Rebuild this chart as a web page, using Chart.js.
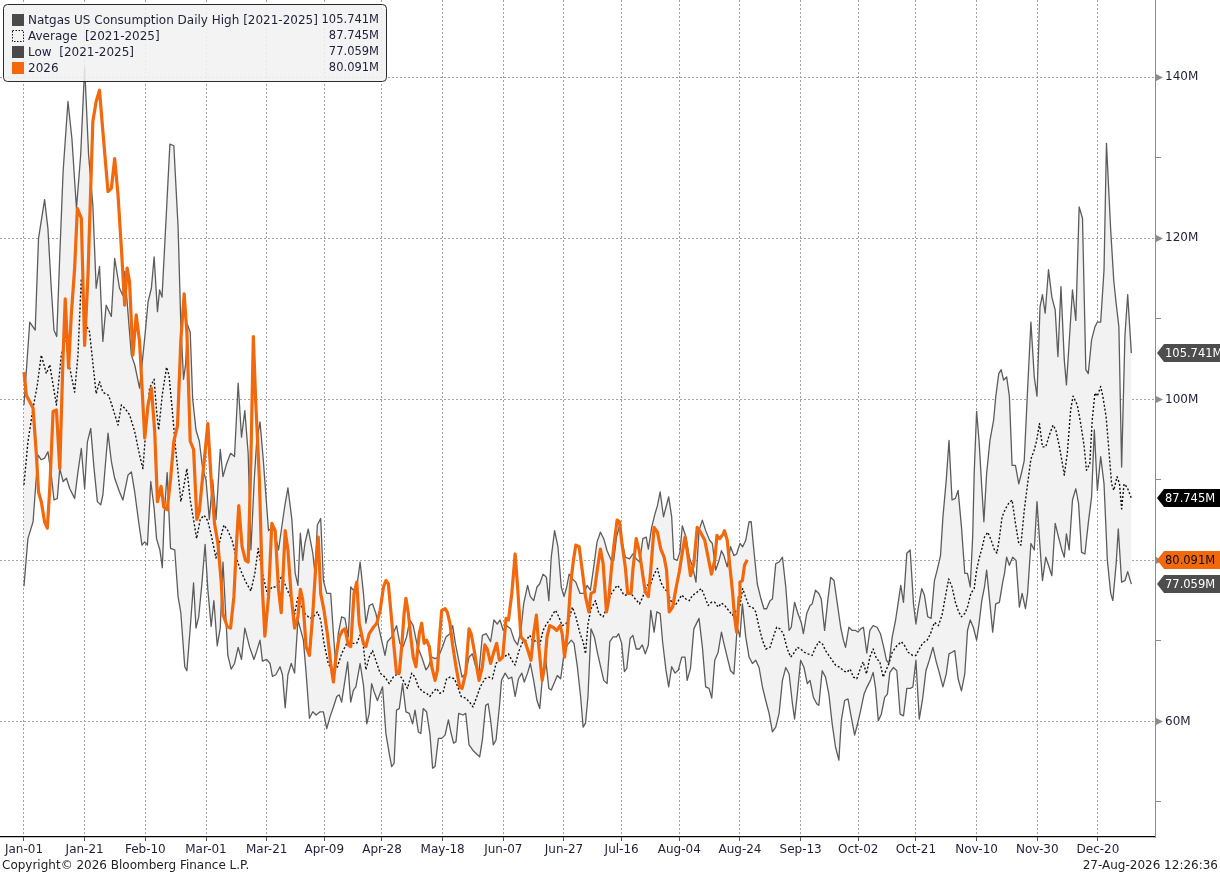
<!DOCTYPE html>
<html>
<head>
<meta charset="utf-8">
<title>Natgas US Consumption Daily</title>
<script src="https://cdn.jsdelivr.net/npm/chart.js@4.4.1/dist/chart.umd.min.js"></script>
<style>
  html, body { margin: 0; padding: 0; background: #fff; }
  canvas { display: block; }
</style>
</head>
<body>
<canvas id="chart" width="1220" height="873"></canvas>
<script>
// x = day of a 366-day seasonal year (Jan-01 = 0, Feb-29 slot included)
const tickDays = [0, 20, 40, 60, 80, 99, 118, 138, 158, 178, 197, 216, 236, 256, 275, 294, 314, 334, 354]
const tickLabels = ['Jan-01', 'Jan-21', 'Feb-10', 'Mar-01', 'Mar-21', 'Apr-09', 'Apr-28', 'May-18', 'Jun-07',
  'Jun-27', 'Jul-16', 'Aug-04', 'Aug-24', 'Sep-13', 'Oct-02', 'Oct-21', 'Nov-10', 'Nov-30', 'Dec-20']
const yTickValues = [50, 60, 70, 80, 90, 100, 110, 120, 130, 140]
const yLabelValues = [60, 80, 100, 120, 140]

// [day, million] pairs
const highPts = [[0,99.3],[1.9,109.6],[3.7,108.6],[4.8,120.0],[6.8,124.8],[7.9,121.2],[9.0,113.8],[9.9,108.6],[10.8,107.8],[11.8,117.9],[12.9,128.3],[14.5,137.0],[15.8,132.4],[17.3,123.7],[18.7,130.4],[20.0,141.3],[21.3,130.4],[22.7,124.1],[23.8,113.8],[24.9,116.5],[26.0,107.2],[27.1,111.7],[28.8,110.3],[29.9,117.5],[31.5,113.8],[32.6,112.9],[33.2,115.9],[35.4,105.5],[36.5,104.3],[38.1,101.4],[39.8,107.6],[40.9,112.1],[42.0,113.8],[42.9,117.7],[44.0,110.9],[44.7,113.6],[45.5,112.7],[46.7,121.4],[48.1,131.7],[49.4,131.5],[50.8,121.4],[51.7,109.3],[52.6,102.5],[53.3,104.4],[53.9,109.3],[54.8,108.3],[55.6,100.1],[56.7,96.2],[57.8,94.8],[58.9,91.4],[60.0,90.0],[61.1,85.1],[62.2,90.0],[63.3,85.1],[64.7,93.8],[65.6,90.4],[66.7,91.9],[68.1,93.3],[69.4,92.9],[70.6,102.0],[71.7,95.3],[72.8,98.6],[73.9,93.3],[74.8,81.3],[75.9,90.0],[76.7,94.8],[77.8,97.2],[78.9,92.4],[80.6,83.7],[82.2,84.2],[83.9,81.3],[85.9,86.6],[87.0,89.0],[88.3,85.1],[89.4,78.4],[90.3,76.9],[91.1,83.4],[91.9,80.0],[92.6,82.1],[93.7,83.9],[95.2,80.9],[95.9,78.4],[96.7,84.4],[97.8,85.2],[98.7,77.5],[99.8,75.9],[101.1,75.9],[102.0,70.9],[102.8,66.8],[103.6,70.9],[104.7,73.0],[105.8,72.8],[106.9,70.5],[107.7,76.7],[108.6,76.3],[109.7,76.7],[110.8,79.8],[111.9,75.9],[112.7,72.2],[113.8,74.4],[114.9,74.6],[116.0,73.4],[117.4,70.9],[119.0,68.2],[119.8,69.9],[121.2,70.5],[122.8,71.9],[123.9,69.7],[125.0,69.3],[126.1,70.5],[127.2,72.6],[128.3,71.9],[129.7,69.3],[131.1,68.0],[132.5,66.4],[133.3,66.8],[134.4,68.0],[135.5,67.8],[136.6,68.0],[138.0,69.3],[139.1,70.5],[140.4,70.9],[141.3,71.9],[142.2,69.7],[143.3,67.6],[144.4,65.5],[145.6,66.0],[146.7,68.0],[147.8,68.4],[148.9,66.8],[150.0,66.2],[151.1,70.7],[152.4,70.9],[153.8,69.9],[154.9,72.6],[156.0,72.1],[156.9,72.6],[158.0,71.3],[159.1,71.9],[160.4,71.5],[161.6,70.1],[162.7,69.5],[163.8,71.3],[164.7,74.6],[166.0,76.9],[166.9,75.5],[168.0,75.0],[169.1,76.7],[170.0,77.1],[171.1,78.3],[172.2,77.9],[173.0,75.0],[173.8,80.4],[174.9,83.7],[176.0,81.7],[177.1,76.7],[178.0,75.5],[178.9,76.7],[179.7,78.3],[180.8,77.7],[181.9,77.3],[183.3,75.9],[184.6,75.9],[185.6,76.9],[186.7,76.3],[187.8,79.2],[188.9,82.3],[190.0,83.5],[191.1,82.7],[192.2,81.2],[193.6,80.0],[194.4,80.0],[195.3,82.9],[196.3,84.3],[197.1,82.5],[198.2,80.4],[199.6,80.2],[200.7,80.8],[201.8,80.2],[202.9,79.8],[204.0,82.7],[205.1,82.9],[205.8,81.4],[206.9,84.1],[208.0,85.8],[208.8,86.8],[209.7,88.5],[210.8,85.4],[211.6,86.6],[212.5,87.9],[213.5,85.4],[214.2,80.2],[215.3,80.0],[216.2,81.0],[217.0,84.3],[218.2,82.9],[219.3,80.4],[220.4,79.2],[221.5,77.3],[222.5,83.7],[223.6,85.0],[224.7,83.7],[226.0,82.5],[226.9,82.1],[228.0,78.8],[229.1,80.0],[229.9,81.2],[230.7,80.6],[231.8,79.2],[232.9,81.7],[234.0,80.6],[234.9,80.8],[236.0,82.1],[236.9,81.7],[237.9,82.5],[239.0,84.8],[239.7,84.8],[240.6,81.2],[241.7,77.1],[242.8,75.4],[243.9,74.0],[244.8,74.0],[245.9,75.0],[246.7,75.2],[247.8,79.6],[248.9,79.8],[250.0,80.4],[251.1,76.7],[252.2,71.3],[252.9,71.7],[254.0,74.8],[255.1,73.4],[256.2,72.3],[256.9,70.9],[258.0,73.4],[259.1,74.4],[259.8,74.6],[260.9,76.3],[262.0,75.9],[262.8,75.2],[263.9,71.3],[265.0,75.2],[265.9,77.9],[267.0,77.5],[268.1,74.6],[269.2,71.7],[270.1,70.1],[270.8,69.2],[271.9,71.7],[273.0,71.3],[274.1,71.3],[274.9,71.1],[275.8,71.5],[276.7,71.7],[277.8,68.5],[278.8,71.3],[279.9,71.9],[281.2,71.7],[282.3,70.9],[283.4,69.2],[284.3,67.6],[285.1,67.2],[286.2,70.5],[287.3,72.6],[288.1,74.6],[289.0,76.9],[289.9,74.8],[291.0,80.9],[292.1,81.3],[293.2,74.6],[294.0,72.1],[294.8,74.2],[295.9,76.5],[296.8,75.7],[297.9,73.0],[299.0,72.8],[300.1,77.5],[301.0,78.8],[302.1,80.6],[302.9,85.4],[304.0,90.0],[304.9,94.9],[305.9,87.5],[307.0,87.7],[307.9,88.7],[309.0,84.2],[310.1,78.4],[311.0,78.4],[311.9,76.7],[312.7,82.9],[313.2,90.8],[314.0,98.5],[314.8,94.9],[315.7,89.1],[316.4,84.8],[317.3,90.8],[318.4,94.9],[319.6,97.4],[320.3,100.3],[321.3,103.2],[322.1,103.7],[322.9,102.4],[323.9,102.8],[324.8,100.4],[325.7,91.8],[326.8,91.8],[327.9,89.5],[329.0,91.2],[329.7,92.4],[330.8,101.2],[331.9,109.6],[333.0,102.8],[333.9,100.4],[334.9,111.5],[335.7,113.0],[336.6,110.7],[337.7,116.1],[338.8,112.7],[339.9,111.1],[340.8,105.3],[341.8,114.0],[342.9,104.9],[343.6,101.8],[344.5,107.0],[345.6,113.6],[346.7,109.8],[347.8,123.9],[348.9,122.5],[350.0,103.7],[350.8,103.2],[351.9,107.4],[353.0,109.0],[353.8,109.6],[354.9,109.6],[356.0,116.1],[356.8,131.8],[358.2,121.0],[359.2,114.8],[360.0,111.9],[360.9,109.0],[361.8,91.6],[362.9,108.0],[363.8,113.0],[365,105.741]]

const lowPts = [[0,76.8],[1.3,82.7],[3.0,84.8],[4.6,93.1],[5.7,92.5],[6.8,92.7],[7.9,93.5],[9.0,90.6],[9.9,87.5],[11.0,87.7],[11.8,91.4],[12.9,89.8],[14.0,90.2],[15.1,88.9],[16.7,87.7],[17.8,91.0],[18.9,93.9],[20.0,88.9],[20.9,94.7],[22.0,96.4],[23.1,91.4],[24.2,87.3],[25.3,86.9],[26.0,88.1],[27.7,95.8],[28.8,92.3],[29.9,90.2],[31.5,88.5],[32.6,87.5],[34.3,90.6],[35.4,91.0],[36.5,88.5],[37.8,84.8],[38.9,81.9],[39.8,82.3],[40.7,81.9],[41.8,89.8],[42.9,86.5],[43.7,82.7],[44.8,81.3],[45.6,79.1],[46.3,86.1],[47.2,90.9],[48.3,81.5],[49.7,81.3],[50.8,75.5],[51.7,73.5],[53.0,66.8],[53.7,66.3],[54.8,71.6],[55.9,77.2],[56.7,71.6],[57.6,73.0],[58.6,76.9],[59.7,82.0],[60.6,76.4],[61.7,71.8],[62.6,75.0],[63.7,69.4],[64.7,71.6],[65.6,79.8],[67.2,68.2],[68.3,66.5],[69.4,67.2],[70.6,69.2],[71.7,67.7],[72.8,71.6],[74.4,69.2],[75.8,67.7],[76.7,68.7],[77.8,70.1],[78.6,67.5],[80.0,67.7],[81.1,67.2],[81.9,65.6],[83.0,65.8],[84.4,66.8],[85.2,65.8],[86.1,61.7],[87.0,65.8],[88.1,67.2],[89.2,66.0],[90.3,72.6],[91.4,71.1],[92.1,70.1],[93.0,66.0],[94.1,60.4],[95.2,61.2],[96.3,60.8],[97.6,61.2],[98.7,61.2],[99.8,59.1],[100.9,60.6],[102.0,61.8],[103.1,63.1],[103.9,63.3],[104.7,62.4],[105.8,65.1],[106.7,67.4],[107.7,62.4],[108.6,63.9],[109.4,64.3],[110.8,67.2],[111.9,64.5],[113.0,59.7],[113.8,61.0],[114.6,64.7],[115.4,63.7],[116.5,62.6],[117.4,63.5],[118.2,64.3],[119.3,58.5],[120.4,56.0],[121.2,54.4],[122.0,54.8],[122.8,61.4],[123.7,61.6],[124.8,64.7],[125.9,61.2],[127.0,61.0],[128.1,59.7],[128.9,61.4],[130.0,58.7],[130.8,58.5],[131.6,61.6],[132.7,61.2],[133.8,58.5],[134.7,54.2],[135.5,54.4],[136.6,57.9],[137.7,57.9],[138.8,58.3],[139.9,60.2],[140.8,58.5],[141.6,57.3],[142.4,57.5],[143.3,61.0],[144.7,60.8],[145.6,61.0],[146.7,57.1],[148.0,56.4],[149.1,56.0],[150.2,55.6],[151.1,57.7],[152.2,62.0],[153.0,62.2],[153.8,60.2],[154.7,57.1],[155.6,57.7],[156.7,61.8],[157.4,65.1],[158.6,66.0],[159.7,65.3],[160.8,65.5],[161.9,63.1],[163.0,65.3],[164.1,66.0],[164.9,64.9],[166.0,66.0],[166.9,67.2],[168.0,65.1],[169.1,62.6],[170.0,61.6],[170.8,65.1],[171.9,68.0],[173.0,64.1],[173.8,63.9],[174.7,64.7],[175.8,65.7],[176.9,65.3],[178.0,68.4],[179.1,69.5],[180.4,70.1],[181.3,69.7],[182.4,66.8],[183.5,63.0],[184.3,59.3],[185.1,59.8],[185.9,63.1],[186.9,71.5],[188.0,70.5],[189.1,68.4],[190.2,66.6],[191.1,65.1],[192.2,64.7],[193.1,69.9],[194.2,70.5],[195.3,70.5],[196.0,70.9],[197.0,69.7],[197.9,66.2],[198.7,66.6],[199.8,70.3],[200.7,70.7],[201.8,69.0],[202.9,69.0],[203.8,69.5],[204.8,68.4],[205.8,69.5],[206.6,73.8],[207.7,71.1],[208.6,73.6],[209.7,73.4],[210.5,69.9],[211.6,66.4],[212.5,64.3],[213.5,66.8],[214.6,66.0],[215.7,66.4],[216.8,68.0],[217.9,68.0],[218.6,65.1],[219.7,66.6],[220.8,71.5],[222.5,72.8],[223.6,69.3],[224.7,64.3],[225.8,64.1],[226.7,62.9],[227.7,67.6],[228.8,68.6],[229.9,71.1],[230.7,69.7],[231.8,68.0],[232.9,66.3],[234.0,65.9],[235.1,71.7],[236.0,70.5],[236.8,74.6],[237.9,70.5],[239.0,68.0],[240.1,67.2],[241.2,67.6],[242.3,66.7],[243.4,64.3],[244.5,62.6],[245.6,61.0],[246.7,58.7],[247.8,59.3],[248.9,61.0],[250.0,65.1],[251.1,66.7],[252.2,65.9],[253.3,62.2],[254.0,60.3],[254.9,63.4],[256.0,67.6],[257.1,66.7],[258.2,64.7],[259.1,65.1],[260.2,63.0],[261.3,62.2],[262.0,62.0],[263.1,66.3],[264.2,65.5],[265.3,63.4],[266.4,59.7],[267.5,56.8],[268.6,55.2],[269.4,60.1],[270.5,62.6],[271.6,62.8],[272.7,60.5],[273.8,58.3],[274.9,59.9],[275.8,61.4],[276.9,63.4],[277.9,64.3],[279.0,65.1],[279.9,66.1],[280.7,64.1],[281.6,60.1],[282.6,60.9],[283.7,63.0],[284.6,63.4],[285.4,66.1],[286.6,66.7],[287.7,66.3],[288.8,60.9],[289.9,60.7],[291.0,64.1],[292.1,64.1],[293.0,64.3],[294.0,67.6],[295.1,60.3],[296.2,62.8],[297.3,66.3],[298.4,67.6],[299.6,69.2],[300.7,67.4],[301.8,65.9],[302.9,64.3],[304.0,65.9],[304.9,68.4],[305.9,68.6],[306.8,68.8],[307.9,65.3],[309.0,63.8],[310.1,65.9],[311.0,71.3],[311.9,72.6],[312.9,71.7],[314.0,70.1],[314.8,72.1],[315.7,75.0],[316.6,76.7],[317.3,78.8],[318.4,74.6],[319.3,71.1],[320.3,74.6],[321.5,74.8],[322.6,77.3],[323.2,78.4],[323.9,80.4],[324.8,79.4],[325.9,80.4],[327.0,80.0],[328.1,74.2],[329.0,75.9],[330.1,74.0],[330.8,75.9],[331.9,82.1],[333.0,81.3],[333.9,87.3],[334.9,81.7],[335.7,77.5],[336.8,80.4],[337.7,79.4],[338.8,78.1],[339.9,84.6],[341.0,82.9],[342.1,81.3],[342.9,80.4],[343.6,83.3],[344.5,81.3],[345.6,87.5],[346.7,88.9],[347.6,87.1],[348.6,81.0],[349.7,80.8],[350.8,84.6],[351.9,87.9],[352.8,96.2],[353.8,88.7],[354.9,92.9],[356.0,89.5],[357.1,80.0],[358.2,75.9],[358.9,75.0],[360.0,79.6],[360.7,83.9],[361.8,77.3],[362.9,77.5],[363.8,78.6],[365,77.059]]

const avgPts = [[0,89.4],[1.3,94.7],[3.0,98.9],[4.4,101.8],[5.7,105.5],[7.4,103.2],[8.5,104.3],[9.6,101.8],[10.7,99.3],[12.3,105.5],[14.0,108.0],[15.1,103.9],[16.7,100.9],[17.8,105.5],[18.9,115.0],[20.0,109.6],[21.6,108.4],[23.8,100.7],[24.9,102.2],[26.0,100.9],[27.9,100.5],[29.3,98.9],[31.0,96.8],[32.1,99.3],[33.2,98.9],[34.8,98.1],[36.5,96.0],[38.1,93.1],[39.2,91.4],[40.3,96.8],[41.4,101.4],[42.9,102.5],[43.7,98.6],[44.4,96.2],[45.6,100.6],[47.0,104.0],[47.8,103.0],[48.9,98.6],[50.0,93.8],[50.8,90.9],[51.7,87.3],[52.6,89.0],[53.7,91.4],[54.8,87.5],[56.1,84.6],[56.9,82.7],[58.1,85.1],[59.4,85.6],[60.6,84.9],[61.7,83.2],[63.3,80.3],[64.4,82.2],[65.9,84.4],[67.2,83.7],[68.6,82.5],[70.0,80.3],[71.4,78.8],[73.0,77.4],[74.8,76.2],[76.1,78.4],[77.2,81.5],[78.6,78.4],[80.3,75.7],[81.7,76.7],[83.3,76.7],[85.0,78.1],[86.7,76.4],[87.8,75.5],[89.2,73.3],[90.3,75.5],[91.0,74.6],[92.6,73.4],[94.3,72.8],[95.4,73.0],[96.7,73.6],[97.8,72.6],[98.9,69.7],[100.3,67.2],[102.0,66.0],[103.3,66.8],[104.7,68.4],[106.4,69.7],[108.0,69.7],[109.7,69.7],[111.0,70.9],[111.9,69.3],[112.7,66.4],[113.8,68.0],[114.9,68.8],[116.3,67.2],[117.4,66.0],[119.0,65.5],[120.4,64.7],[121.7,65.5],[123.4,66.0],[125.0,65.1],[126.4,64.1],[127.8,66.0],[128.9,65.5],[130.0,64.3],[131.4,63.7],[132.7,63.5],[133.8,63.1],[134.9,63.7],[136.0,64.1],[137.1,63.5],[138.2,63.7],[139.3,65.3],[140.4,65.5],[141.9,65.3],[143.0,64.3],[144.1,63.1],[145.6,62.9],[146.9,62.4],[148.0,61.8],[149.3,63.1],[150.4,64.3],[151.9,65.3],[153.3,65.5],[154.4,65.3],[155.6,67.2],[156.9,67.8],[158.2,68.0],[159.7,68.4],[160.8,67.6],[161.9,67.0],[163.0,68.6],[164.4,69.9],[165.6,70.1],[166.7,70.7],[167.8,69.9],[168.9,70.1],[170.0,69.5],[171.1,71.3],[172.2,72.1],[173.3,72.6],[174.4,73.4],[175.2,73.8],[176.3,73.0],[177.4,71.9],[178.6,72.1],[179.7,72.8],[180.8,74.2],[181.9,73.0],[183.3,70.9],[184.3,69.9],[185.1,68.4],[185.9,72.1],[186.9,74.0],[188.4,75.0],[189.5,73.4],[190.9,73.0],[192.2,74.2],[193.3,75.7],[194.4,76.3],[195.5,76.9],[196.6,76.5],[197.7,75.7],[199.0,75.7],[200.1,75.9],[201.5,75.2],[202.9,74.6],[204.0,75.5],[205.3,76.9],[206.6,77.1],[207.7,78.3],[208.8,79.0],[209.9,77.3],[211.0,76.5],[212.1,76.1],[213.2,75.0],[214.6,74.4],[215.7,75.0],[216.8,75.7],[218.2,75.2],[219.3,75.0],[220.4,75.7],[221.5,75.9],[222.5,76.3],[223.3,76.5],[224.4,75.5],[225.5,74.4],[226.6,74.8],[227.7,74.8],[228.8,74.2],[229.9,74.7],[231.0,74.4],[231.8,74.0],[233.5,73.2],[234.9,73.8],[236.0,74.4],[236.9,76.5],[237.9,75.4],[239.0,74.3],[240.1,74.2],[241.2,73.6],[242.3,71.7],[243.4,70.1],[244.5,69.0],[245.9,69.2],[247.0,70.5],[248.1,71.7],[249.2,71.5],[250.3,70.9],[251.6,69.0],[252.7,68.0],[253.6,68.4],[254.9,69.2],[256.0,69.0],[257.1,68.6],[258.4,68.4],[259.8,68.2],[260.9,69.2],[262.0,69.9],[263.1,69.7],[264.2,68.8],[265.3,68.2],[266.4,67.6],[267.5,67.0],[269.0,66.7],[270.1,66.3],[271.2,66.1],[272.3,66.5],[273.4,65.5],[274.5,65.3],[275.6,66.5],[276.6,67.4],[277.7,65.9],[278.8,68.0],[279.9,69.0],[281.0,67.8],[282.1,67.4],[283.2,65.5],[284.3,66.5],[285.1,67.2],[286.2,68.6],[287.7,69.4],[289.2,69.9],[290.3,69.4],[291.4,68.6],[292.9,68.2],[294.0,68.2],[295.1,69.0],[296.2,69.7],[297.7,70.1],[298.8,70.9],[300.1,72.3],[301.4,71.9],[302.6,73.2],[303.7,75.5],[304.8,77.7],[305.9,76.7],[307.0,74.8],[308.1,73.6],[309.0,73.0],[310.1,73.4],[311.0,74.2],[312.1,75.9],[313.2,76.5],[314.0,78.8],[314.8,80.2],[315.9,81.7],[316.6,82.9],[317.7,83.5],[318.8,82.5],[319.9,81.3],[320.7,80.9],[321.4,82.5],[322.4,85.4],[323.5,86.4],[324.6,87.1],[325.7,87.5],[326.8,84.6],[327.9,82.1],[328.6,81.9],[329.7,86.2],[330.8,89.5],[331.9,92.6],[333.0,93.7],[333.8,94.9],[334.7,97.0],[335.7,94.1],[336.8,94.1],[337.9,95.5],[339.2,96.8],[340.1,96.2],[341.2,94.3],[342.1,92.4],[342.9,90.6],[343.9,93.3],[345.0,98.7],[345.8,100.4],[347.2,99.3],[348.3,97.0],[349.4,94.3],[350.2,91.2],[351.3,92.0],[352.1,97.4],[353.0,100.8],[353.8,100.4],[354.9,101.6],[355.6,100.4],[356.7,97.8],[357.6,93.7],[358.5,89.5],[359.2,88.7],[360.3,90.4],[361.1,89.5],[361.8,86.4],[362.6,89.5],[363.6,89.1],[365,87.745]]

const y2026Pts = [[0,103.4],[0.8,100.5],[1.9,99.7],[3.0,98.9],[4.1,93.1],[4.8,88.5],[5.7,87.3],[6.8,84.8],[7.7,84.0],[8.5,88.9],[9.6,98.5],[10.7,98.7],[11.8,91.4],[12.9,105.5],[13.6,112.5],[14.7,103.9],[15.6,110.5],[16.7,116.3],[17.6,123.7],[18.9,122.5],[20.0,106.7],[21.1,115.4],[22.0,126.2],[22.7,134.5],[23.8,137.0],[24.9,138.4],[26.0,133.3],[27.7,125.8],[28.8,126.2],[29.9,129.9],[31.0,125.4],[32.1,118.8],[33.2,111.7],[34.0,116.3],[34.8,114.6],[35.9,105.5],[37.0,110.5],[38.1,107.2],[39.8,95.2],[40.9,99.3],[42.0,101.4],[43.1,96.0],[44.0,87.3],[45.2,89.2],[46.1,86.6],[47.2,86.3],[48.3,90.0],[49.4,94.8],[50.6,96.7],[51.7,107.3],[52.8,113.1],[53.7,108.3],[54.8,94.8],[55.9,93.8],[57.0,85.1],[57.8,86.1],[58.9,90.4],[60.6,97.0],[61.7,90.0],[62.8,84.6],[63.9,82.2],[65.0,77.4],[65.6,73.3],[67.0,71.8],[68.1,71.6],[69.2,75.5],[70.0,81.7],[70.8,86.8],[71.9,81.7],[73.0,80.0],[73.9,79.8],[74.8,92.4],[75.6,107.8],[76.4,99.6],[77.6,90.0],[78.6,76.4],[79.4,70.6],[80.6,75.5],[81.7,84.6],[82.8,83.7],[83.9,76.4],[84.8,73.5],[86.1,83.7],[87.0,81.3],[88.1,75.5],[89.2,71.6],[90.3,73.0],[91.1,76.4],[91.9,75.1],[93.0,69.3],[94.1,68.2],[95.2,73.4],[96.3,80.0],[97.0,82.9],[97.8,75.9],[98.9,73.8],[100.0,70.9],[101.1,67.2],[102.0,64.9],[102.8,68.0],[103.9,70.5],[105.0,71.3],[105.8,71.5],[106.9,69.5],[107.7,69.3],[108.8,75.9],[109.7,77.3],[110.5,72.2],[111.9,69.7],[112.7,69.3],[113.8,70.9],[115.2,71.7],[116.3,72.2],[117.4,73.8],[118.5,76.7],[119.3,77.5],[120.1,77.1],[120.9,73.8],[122.0,69.1],[122.8,66.0],[123.7,66.0],[124.5,69.3],[125.3,73.4],[125.9,75.3],[126.7,73.4],[127.5,70.5],[128.3,68.0],[129.2,66.8],[130.3,70.9],[131.1,72.2],[131.9,69.7],[132.7,70.1],[133.6,69.3],[134.4,66.8],[135.5,65.1],[136.3,66.4],[136.9,70.1],[137.7,73.8],[138.8,74.0],[139.5,73.6],[140.4,72.2],[141.3,69.5],[142.4,66.8],[143.6,64.3],[144.4,64.1],[145.6,66.0],[146.7,71.5],[147.4,70.9],[148.6,68.4],[149.3,66.6],[150.0,65.1],[151.1,66.8],[151.9,69.5],[152.7,69.0],[153.8,67.2],[154.7,68.4],[155.8,69.7],[156.7,67.6],[157.8,68.0],[158.9,72.8],[159.7,72.6],[160.8,75.9],[161.9,80.8],[162.7,76.7],[163.8,70.5],[165.2,69.9],[166.3,68.6],[167.1,67.6],[168.0,70.9],[168.9,73.2],[169.7,69.3],[170.8,65.1],[171.6,66.8],[172.4,70.5],[173.3,71.9],[174.4,71.7],[175.6,71.3],[176.7,71.9],[177.4,70.9],[178.2,68.0],[179.1,70.9],[180.2,77.1],[181.1,80.0],[181.9,81.9],[183.0,81.7],[184.3,77.9],[185.1,75.5],[186.2,73.6],[186.9,75.9],[188.0,76.1],[189.1,79.2],[190.0,81.4],[190.9,79.6],[192.0,73.6],[192.7,75.0],[193.6,78.8],[194.4,81.7],[195.5,85.0],[196.3,84.8],[197.1,82.1],[198.2,79.2],[199.0,75.9],[200.1,75.9],[200.7,78.8],[201.8,82.7],[202.9,81.0],[204.0,78.1],[204.8,76.1],[205.8,75.5],[206.6,78.8],[207.7,84.1],[208.8,83.5],[209.9,81.4],[211.0,80.4],[211.8,78.8],[212.7,73.6],[213.8,74.2],[214.9,76.5],[216.0,78.6],[217.1,81.2],[217.9,82.9],[218.6,81.2],[219.7,78.1],[220.8,79.6],[221.9,84.1],[223.0,83.5],[224.4,82.5],[225.5,80.4],[226.6,78.3],[227.7,80.0],[228.4,83.1],[229.3,82.7],[230.5,83.3],[230.9,83.7],[231.8,82.5],[232.7,79.2],[233.6,75.9],[234.2,73.0],[234.9,71.1],[235.7,75.4],[236.0,77.3],[236.8,77.5],[237.5,79.4],[238.4,80.091]]

const ORANGE = '#f2680c'
const GREY_LINE = '#5c5c5c'
const TEXT = '#1f1f3a'
const FONT = '"DejaVu Sans", Verdana, sans-serif'

const toXY = pts => pts.map(([x, y]) => ({ x, y }))
const last = pts => pts[pts.length - 1][1]

const series = [
  { label: 'Natgas US Consumption Daily High [2021-2025]', value: last(highPts), swatch: '#4a4a4a', tag: '#4d4d4d', tagText: '#fff' },
  { label: 'Average  [2021-2025]', value: last(avgPts), swatch: 'dotted', tag: '#000', tagText: '#fff' },
  { label: 'Low  [2021-2025]', value: last(lowPts), swatch: '#4a4a4a', tag: '#4d4d4d', tagText: '#fff' },
  { label: '2026', value: last(y2026Pts), swatch: ORANGE, tag: ORANGE, tagText: '#111' }
]

Chart.defaults.font.family = FONT
Chart.defaults.font.size = 12

const overlay = {
  id: 'overlay',
  afterDraw(chart) {
    const { ctx, chartArea: area, scales: { y } } = chart
    ctx.save()

    // pointer marks on the labelled y ticks
    ctx.fillStyle = '#8c8c8c'
    yLabelValues.forEach(v => {
      const py = Math.round(y.getPixelForValue(v)) + 0.5
      ctx.beginPath()
      ctx.moveTo(area.right + 1, py - 3.5)
      ctx.lineTo(area.right + 8, py)
      ctx.lineTo(area.right + 1, py + 3.5)
      ctx.closePath()
      ctx.fill()
    })

    // last value tags on the right axis
    ctx.font = '11.5px ' + FONT
    ctx.textBaseline = 'middle'
    ctx.textAlign = 'left'
    series.forEach(s => {
      const py = Math.round(y.getPixelForValue(s.value))
      ctx.fillStyle = s.tag
      ctx.beginPath()
      ctx.moveTo(area.right + 2, py)
      ctx.lineTo(area.right + 9, py - 9)
      ctx.lineTo(1220, py - 9)
      ctx.lineTo(1220, py + 9)
      ctx.lineTo(area.right + 9, py + 9)
      ctx.closePath()
      ctx.fill()
      ctx.fillStyle = s.tagText
      ctx.fillText(s.value.toFixed(3) + 'M', area.right + 10, py + 1)
    })

    // legend box
    const bx = 3.5, by = 4.5, bw = 383, bh = 77
    ctx.beginPath()
    ctx.roundRect(bx, by, bw, bh, 4)
    ctx.fillStyle = 'rgba(241,241,241,0.88)'
    ctx.fill()
    ctx.strokeStyle = '#2a2a2a'
    ctx.lineWidth = 1
    ctx.stroke()

    series.forEach((s, i) => {
      const cy = 19.5 + i * 16
      if (s.swatch === 'dotted') {
        ctx.save()
        ctx.setLineDash([1.5, 1.5])
        ctx.strokeStyle = '#111'
        ctx.strokeRect(12.5, cy - 5, 11, 11)
        ctx.restore()
      } else {
        ctx.fillStyle = s.swatch
        ctx.fillRect(12, cy - 5.5, 12, 12)
      }
      ctx.fillStyle = TEXT
      ctx.textAlign = 'left'
      ctx.font = '12px ' + FONT
      ctx.fillText(s.label, 28, cy + 1)
      ctx.textAlign = 'right'
      ctx.font = '11.5px ' + FONT
      ctx.fillText(s.value.toFixed(3) + 'M', 379, cy + 1)
    })

    // footer
    ctx.font = '12px ' + FONT
    ctx.fillStyle = '#222'
    ctx.textBaseline = 'alphabetic'
    ctx.textAlign = 'left'
    ctx.fillText('Copyright\u00a9 2026 Bloomberg Finance L.P.', 2, 869)
    ctx.textAlign = 'right'
    ctx.fillText('27-Aug-2026 12:26:36', 1218, 869)
    ctx.restore()
  }
}

new Chart(document.getElementById('chart'), {
  type: 'line',
  data: {
    datasets: [
      { label: '2026', data: toXY(y2026Pts), borderColor: ORANGE, borderWidth: 3.2, fill: false },
      { label: 'Average', data: toXY(avgPts), borderColor: '#111', borderWidth: 1.4, borderDash: [2, 2], fill: false },
      { label: 'High', data: toXY(highPts), borderColor: GREY_LINE, borderWidth: 1.3, fill: '+1', backgroundColor: '#f2f2f2' },
      { label: 'Low', data: toXY(lowPts), borderColor: GREY_LINE, borderWidth: 1.3, fill: false }
    ]
  },
  options: {
    responsive: false,
    animation: false,
    layout: { padding: 0 },
    elements: { point: { radius: 0 }, line: { tension: 0, borderJoinStyle: 'round' } },
    plugins: {
      legend: { display: false },
      tooltip: { enabled: false },
      filler: { drawTime: 'beforeDatasetsDraw' }
    },
    scales: {
      x: {
        type: 'linear',
        bounds: 'data',
        min: -7.9,
        max: 372.8,
        afterBuildTicks: scale => { scale.ticks = tickDays.map(v => ({ value: v })) },
        afterFit: scale => { scale.height = 36; scale.paddingLeft = 0; scale.paddingRight = 0 },
        ticks: {
          autoSkip: false,
          maxRotation: 0,
          padding: 2,
          color: TEXT,
          callback: (v, i) => tickLabels[i]
        },
        grid: {
          color: '#a3a3a3',
          tickColor: '#555',
          tickLength: 4,
          tickBorderDash: []
        },
        border: { display: true, color: '#000', width: 1.2, dash: [2, 2] }
      },
      y: {
        type: 'linear',
        position: 'right',
        bounds: 'data',
        min: 45.65,
        max: 149.6,
        afterBuildTicks: scale => { scale.ticks = yTickValues.map(v => ({ value: v })) },
        afterFit: scale => { scale.width = 65; scale.paddingTop = 0; scale.paddingBottom = 0 },
        ticks: {
          padding: 4,
          color: TEXT,
          font: { size: 12 },
          callback: v => (yLabelValues.includes(v) ? v + 'M' : '')
        },
        grid: {
          color: c => (c.tick && yLabelValues.includes(c.tick.value) ? '#a3a3a3' : 'rgba(0,0,0,0)'),
          tickColor: c => (c.tick && yLabelValues.includes(c.tick.value) ? 'rgba(0,0,0,0)' : '#8c8c8c'),
          tickLength: 6,
          tickBorderDash: []
        },
        border: { display: true, color: '#8c8c8c', width: 1, dash: [2, 2] }
      }
    }
  },
  plugins: [overlay]
})
</script>
</body>
</html>
